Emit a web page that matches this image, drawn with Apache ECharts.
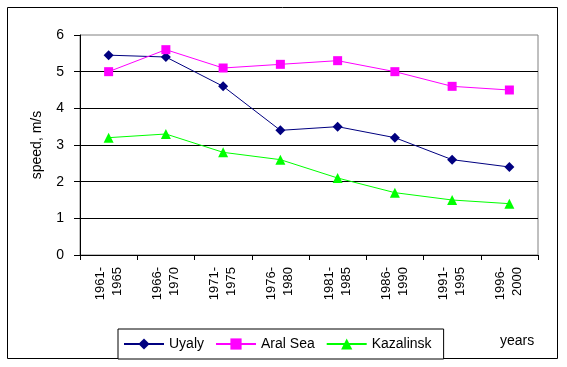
<!DOCTYPE html>
<html>
<head>
<meta charset="utf-8">
<script src="https://cdn.jsdelivr.net/npm/echarts@6/dist/echarts.min.js"></script>
<style>
html,body{margin:0;padding:0;background:#fff;}
#c{width:567px;height:367px;}
</style>
</head>
<body>
<div id="c"></div>
<script>
var categories = ['1961-\n1965','1966-\n1970','1971-\n1975','1976-\n1980','1981-\n1985','1986-\n1990','1991-\n1995','1996-\n2000'];
var uyaly = [5.45, 5.4, 4.6, 3.4, 3.5, 3.2, 2.6, 2.4];
var aralSea = [5.0, 5.6, 5.1, 5.2, 5.3, 5.0, 4.6, 4.5];
var kazalinsk = [3.2, 3.3, 2.8, 2.6, 2.1, 1.7, 1.5, 1.4];
var yTicks = [0, 1, 2, 3, 4, 5, 6];

var FONT = 'Liberation Sans, Arial, sans-serif';
var chart = echarts.init(document.getElementById('c'), null, {renderer: 'canvas'});
chart.setOption({
  animation: false,
  backgroundColor: '#fff',
  grid: {left: 80, top: 35, right: 29, bottom: 112, show: true, borderColor: '#808080', borderWidth: 1, backgroundColor: '#fff'},
  xAxis: {
    type: 'category',
    data: categories,
    boundaryGap: true,
    axisLine: {lineStyle: {color: '#000', width: 1}},
    axisTick: {show: true, length: 5, interval: 0, lineStyle: {color: '#000'}},
    axisLabel: {rotate: 90, interval: 0, margin: 12, color: '#000', fontFamily: FONT, fontSize: 13, lineHeight: 17},
    splitLine: {show: false}
  },
  yAxis: {
    type: 'value',
    min: yTicks[0],
    max: yTicks[yTicks.length - 1],
    interval: 1,
    name: 'speed, m/s',
    nameLocation: 'middle',
    nameRotate: 90,
    nameGap: 36,
    nameTextStyle: {color: '#000', fontFamily: FONT, fontSize: 14},
    axisLine: {show: true, lineStyle: {color: '#000', width: 1}},
    axisTick: {show: true, length: 6, lineStyle: {color: '#000'}},
    axisLabel: {margin: 16, color: '#000', fontFamily: FONT, fontSize: 14},
    splitLine: {show: true, showMaxLine: false, lineStyle: {color: '#000', width: 1}}
  },
  legend: {
    left: 118,
    top: 329,
    padding: [8, 12, 8, 5],
    itemGap: 11,
    itemWidth: 40,
    itemHeight: 14,
    borderColor: '#000',
    borderWidth: 1,
    backgroundColor: '#fff',
    textStyle: {color: '#000', fontFamily: FONT, fontSize: 14},
    data: ['Uyaly', 'Aral Sea', 'Kazalinsk']
  },
  graphic: [
    {type: 'rect', shape: {x: 7.5, y: 7.5, width: 550, height: 351}, style: {fill: 'none', stroke: '#000', lineWidth: 1}, z: -1},
    {type: 'text', left: 500, top: 334, style: {text: 'years', fill: '#000', font: '14px ' + FONT}}
  ],
  series: [
    {name: 'Uyaly', type: 'line', data: uyaly, symbol: 'diamond', symbolSize: 10,
     lineStyle: {color: '#000080', width: 1}, itemStyle: {color: '#000080'}},
    {name: 'Aral Sea', type: 'line', data: aralSea, symbol: 'rect', symbolSize: 9,
     lineStyle: {color: '#FF00FF', width: 1}, itemStyle: {color: '#FF00FF'}},
    {name: 'Kazalinsk', type: 'line', data: kazalinsk, symbol: 'triangle', symbolSize: 10,
     lineStyle: {color: '#00FF00', width: 1}, itemStyle: {color: '#00FF00'}}
  ]
});
</script>
</body>
</html>
